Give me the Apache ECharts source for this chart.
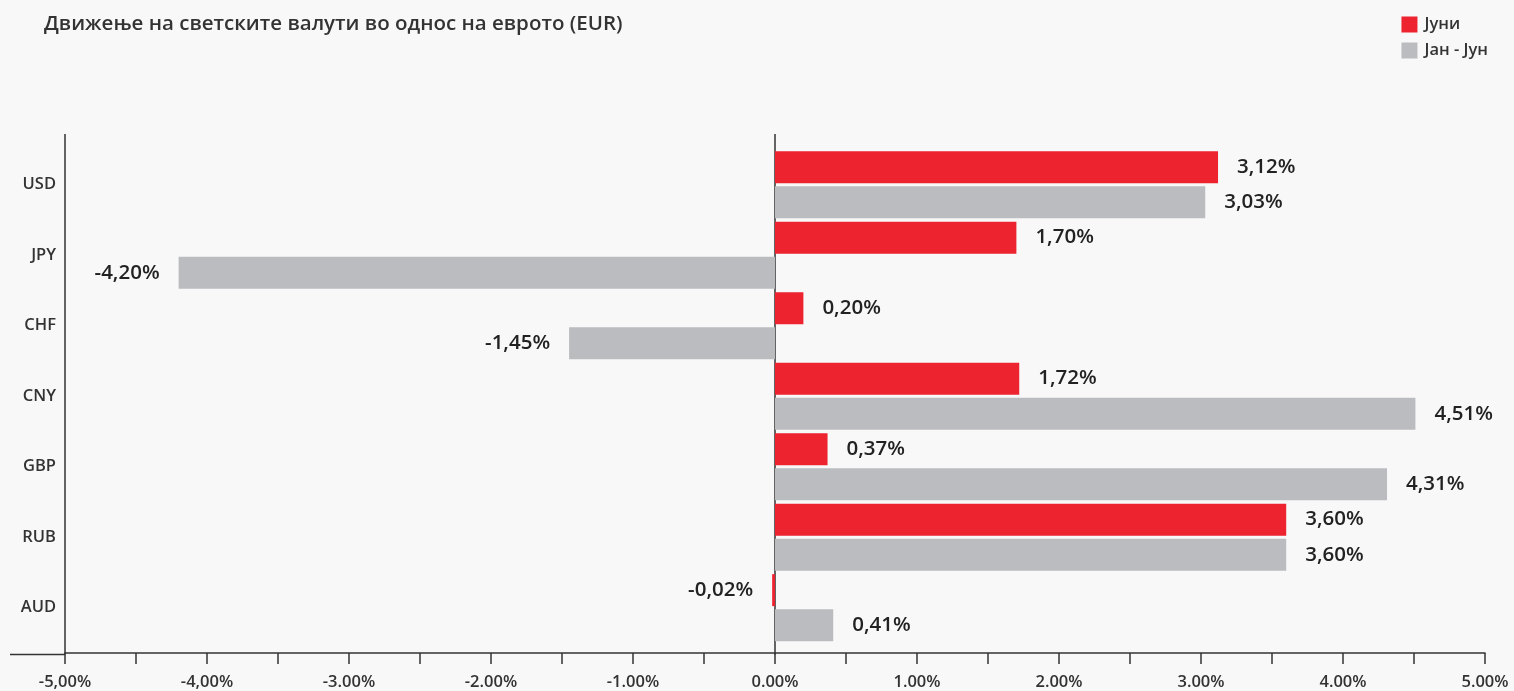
<!DOCTYPE html>
<html>
<head>
<meta charset="utf-8">
<script src="https://cdn.jsdelivr.net/npm/echarts@6/dist/echarts.min.js"></script>
<style>
html,body{margin:0;padding:0;background:#f8f8f8;}
#c{width:1514px;height:691px;}
</style>
</head>
<body>
<div id="c"></div>
<script>
const categories = ['USD','JPY','CHF','CNY','GBP','RUB','AUD'];
const seriesNames = ['Јуни','Јан - Јун'];
const juni = [3.12, 1.70, 0.20, 1.72, 0.37, 3.60, -0.02];
const janJun = [3.03, -4.20, -1.45, 4.51, 4.31, 3.60, 0.41];
const tickValues = [-5,-4,-3,-2,-1,0,1,2,3,4,5];
const tickLabels = ['-5,00%','-4,00%','-3.00%','-2.00%','-1.00%','0.00%','1.00%','2.00%','3.00%','4.00%','5.00%'];

const FONT = 'Open Sans';
const RED = '#ed2330';
const GRAY = '#bbbcc0';
const AXIS = '#333333';

function fmt(v){ return v.toFixed(2).replace('.', ',') + '%'; }

function mkSeries(name, data, color){
  return {
    name: name,
    type: 'bar',
    barWidth: 32,
    barGap: '10%',
    itemStyle: { color: color },
    data: data.map(v => ({
      value: v,
      label: {
        show: true,
        position: v < 0 ? 'left' : 'right',
        distance: 19,
        formatter: () => fmt(v),
        fontFamily: FONT, fontSize: 20.5, fontWeight: 600, color: '#222'
      }
    }))
  };
}

const chart = echarts.init(document.getElementById('c'));
const option = {
  backgroundColor: '#f8f8f8',
  animation: false,
  title: {
    text: 'Движење на светските валути во однос на еврото (EUR)',
    left: 39, top: 9,
    textStyle: { fontFamily: FONT, fontSize: 20.5, fontWeight: 600, color: '#333' }
  },
  legend: {
    orient: 'vertical',
    right: 21, top: 11,
    itemWidth: 16, itemHeight: 16, itemGap: 9,
    icon: 'rect',
    data: seriesNames,
    textStyle: { fontFamily: FONT, fontSize: 16.5, fontWeight: 600, color: '#333', padding: [0,0,0,2] }
  },
  grid: { left: 65, right: 29, top: 149.5, height: 495, containLabel: false },
  xAxis: {
    type: 'value',
    min: -5, max: 5, interval: 1,
    offset: 10,
    axisLine: { show: true, lineStyle: { color: AXIS, width: 1.5 } },
    axisTick: { show: true, length: 11, lineStyle: { color: AXIS, width: 1.5 } },
    minorTick: { show: true, splitNumber: 2, length: 11, lineStyle: { color: AXIS, width: 1.5 } },
    splitLine: { show: false },
    axisLabel: {
      fontFamily: FONT, fontSize: 16.5, fontWeight: 600, color: '#333', margin: 21,
      formatter: function(v){
        const i = tickValues.indexOf(Math.round(v));
        return i >= 0 ? tickLabels[i] : '';
      }
    }
  },
  yAxis: {
    type: 'category',
    inverse: true,
    data: categories,
    axisLine: { show: false },
    axisTick: { show: false },
    axisLabel: { fontFamily: FONT, fontSize: 16.5, fontWeight: 600, color: '#333', margin: 9 }
  },
  series: [ mkSeries(seriesNames[0], juni, RED), mkSeries(seriesNames[1], janJun, GRAY) ]
};
chart.setOption(option);

// axis decorations positioned via the chart's own scale
const x0 = chart.convertToPixel({xAxisIndex:0}, 0);
const xMin = chart.convertToPixel({xAxisIndex:0}, -5);
const yTop = 134, yBottom = 654.5;
chart.setOption({
  graphic: [
    { type:'line', shape:{x1:xMin, y1:yTop, x2:xMin, y2:yBottom}, style:{stroke:AXIS, lineWidth:1.5}, z:10 },
    { type:'line', shape:{x1:x0, y1:yTop, x2:x0, y2:yBottom}, style:{stroke:AXIS, lineWidth:1.5}, z:0 },
    { type:'line', shape:{x1:10, y1:yBottom, x2:xMin, y2:yBottom}, style:{stroke:AXIS, lineWidth:1.5}, z:10 }
  ]
});
</script>
</body>
</html>
